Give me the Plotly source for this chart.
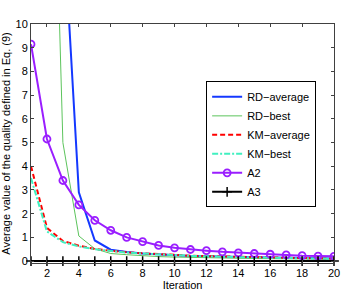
import plotly.graph_objects as go

iterations = list(range(1, 21))
rd_average = [45, 30, 14.7, 2.9, 0.87, 0.48, 0.38, 0.32, 0.28, 0.25, 0.22, 0.2, 0.18, 0.17, 0.16, 0.15, 0.14, 0.13, 0.12, 0.11]
rd_best = [40, 28.8, 5.0, 1.06, 0.52, 0.32, 0.27, 0.22, 0.19, 0.17, 0.15, 0.14, 0.13, 0.12, 0.11, 0.1, 0.1, 0.09, 0.09, 0.08]
km_average = [4.0, 1.4, 0.85, 0.65, 0.51, 0.43, 0.37, 0.33, 0.29, 0.26, 0.23, 0.21, 0.19, 0.17, 0.16, 0.15, 0.14, 0.13, 0.12, 0.11]
km_best = [3.5, 1.25, 0.8, 0.62, 0.5, 0.42, 0.36, 0.32, 0.28, 0.25, 0.22, 0.2, 0.18, 0.16, 0.15, 0.14, 0.13, 0.12, 0.11, 0.1]
a2 = [9.15, 5.15, 3.4, 2.37, 1.72, 1.3, 1.0, 0.82, 0.66, 0.56, 0.49, 0.44, 0.39, 0.35, 0.32, 0.29, 0.26, 0.23, 0.21, 0.20]
a3 = [0.0] * 20

x_ticks = list(range(2, 21, 2))
y_ticks = list(range(0, 11))

font = "Liberation Sans, Arial, Helvetica, sans-serif"

fig = go.Figure()
fig.add_trace(go.Scatter(x=iterations, y=rd_average, name="RD\u2212average", mode="lines",
                         line=dict(color="#1438ff", width=2)))
fig.add_trace(go.Scatter(x=iterations, y=rd_best, name="RD\u2212best", mode="lines",
                         line=dict(color="#5cc45c", width=1)))
fig.add_trace(go.Scatter(x=iterations, y=km_average, name="KM\u2212average", mode="lines",
                         line=dict(color="#ff0000", width=2, dash="5px,3px")))
fig.add_trace(go.Scatter(x=iterations, y=km_best, name="KM\u2212best", mode="lines",
                         line=dict(color="#40f0c0", width=2, dash="6px,2px,2px,2px")))
fig.add_trace(go.Scatter(x=iterations, y=a2, name="A2", mode="lines+markers",
                         line=dict(color="#9a1eff", width=2),
                         marker=dict(symbol="circle-open", size=7, color="#9a1eff",
                                     line=dict(width=1.8, color="#9a1eff"))))
fig.add_trace(go.Scatter(x=iterations, y=a3, name="A3", mode="lines+markers",
                         line=dict(color="#000000", width=2),
                         marker=dict(symbol="cross-thin", size=7, color="#000000",
                                     line=dict(width=1.5, color="#000000")),
                         cliponaxis=False))

axis_common = dict(showgrid=False, zeroline=False, showline=True, linecolor="#404040",
                   linewidth=1, mirror="ticks", ticks="inside", ticklen=3,
                   tickcolor="#404040", tickfont=dict(family=font, size=11, color="#000"))

fig.update_xaxes(range=[1, 20], tickvals=x_ticks, ticktext=[str(v) for v in x_ticks],
                 title=dict(text="Iteration", font=dict(family=font, size=11, color="#000"), standoff=1),
                 **axis_common)
fig.update_yaxes(range=[-0.08, 10], tickvals=y_ticks, ticktext=[str(v) for v in y_ticks],
                 title=dict(text="Average value of the quality defined in Eq. (9)",
                            font=dict(family=font, size=11, color="#000"), standoff=5),
                 **axis_common)

fig.update_layout(
    width=343, height=291,
    margin=dict(l=31, r=9, t=24, b=28, autoexpand=False),
    paper_bgcolor="white", plot_bgcolor="white",
    showlegend=True,
    legend=dict(x=0.578, y=0.76, xanchor="left", yanchor="top",
                bgcolor="white", bordercolor="#000", borderwidth=1,
                font=dict(family=font, size=11, color="#000"),
                tracegroupgap=0, itemwidth=30),
)

fig.write_html("out.html", config={"displayModeBar": False},
               post_script="document.body.style.margin='0';document.body.style.overflow='hidden';")
